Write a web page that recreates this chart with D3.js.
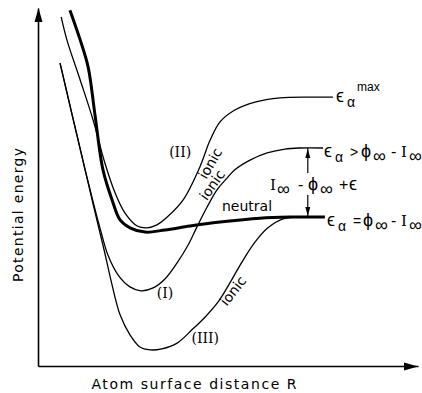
<!DOCTYPE html>
<html>
<head>
<meta charset="utf-8">
<script src="https://cdn.jsdelivr.net/npm/d3@7"></script>
<style>
  body { margin: 0; background: #fff; }
</style>
</head>
<body>
<svg id="chart" width="422" height="393"></svg>
<script>
// Potential energy curves, [R, E] in arbitrary units (R runs 0..10 along the x axis, E 0..10 up the y axis)
const neutralCurve = [
    [0.84, 9.94], [1.11, 9.11], [1.32, 8.35], [1.50, 7.01], [1.71, 5.48], [1.95, 4.64],
    [2.16, 4.08], [2.42, 3.86], [2.82, 3.74], [3.34, 3.80], [4.00, 3.91], [4.79, 4.02],
    [5.84, 4.13], [6.63, 4.16], [7.55, 4.16]
];
const curveI = [
    [0.58, 8.46], [0.90, 7.01], [1.24, 5.48], [1.47, 4.50], [1.63, 3.86], [1.84, 3.10],
    [2.11, 2.54], [2.42, 2.21], [2.71, 2.10], [3.03, 2.18], [3.34, 2.43], [3.66, 2.88],
    [3.95, 3.38], [4.18, 3.88], [4.45, 4.44], [4.71, 4.92], [4.95, 5.22], [5.18, 5.48],
    [5.58, 5.75], [6.03, 5.95], [6.50, 6.06], [6.90, 6.09], [7.50, 6.09]
];
const curveII = [
    [0.61, 9.75], [0.76, 9.11], [1.11, 7.99], [1.45, 6.87], [1.76, 5.67], [2.03, 4.83],
    [2.29, 4.27], [2.61, 3.91], [2.87, 3.86], [3.13, 3.94], [3.40, 4.16], [3.82, 4.64],
    [4.26, 5.56], [4.53, 6.31], [4.79, 6.82], [5.18, 7.15], [5.71, 7.37], [6.37, 7.49],
    [7.16, 7.51], [7.76, 7.51]
];
const curveIII = [
    [0.58, 8.46], [0.90, 7.01], [1.24, 5.48], [1.50, 4.30], [1.74, 3.24], [1.95, 2.26],
    [2.16, 1.43], [2.42, 0.87], [2.68, 0.53], [2.95, 0.45], [3.26, 0.48], [3.66, 0.64],
    [4.05, 1.01], [4.40, 1.37], [4.74, 1.79], [5.05, 2.32], [5.37, 2.91], [5.71, 3.46],
    [6.05, 3.86], [6.45, 4.11], [6.90, 4.16]
];

// labels sitting on the curves: text, R, E, rotation
const curveLabels = [
    { text: "(II)", r: 3.74, e: 5.84, rot: 0, serif: true },
    { text: "(I)", r: 3.34, e: 1.90, rot: 0, serif: true },
    { text: "(III)", r: 4.40, e: 0.64, rot: 0, serif: true },
    { text: "neutral", r: 5.50, e: 4.33, rot: 0 },
    { text: "ionic", r: 4.53, e: 5.66, rot: -60 },
    { text: "ionic", r: 4.58, e: 5.06, rot: -55 },
    { text: "ionic", r: 5.13, e: 2.10, rot: -52 }
];

// R position of the double arrow between the two plateaus
const gapR = 7.1;

const svg = d3.select("#chart");

const x = d3.scaleLinear().domain([0, 10]).range([38, 418]);
const y = d3.scaleLinear().domain([0, 10]).range([366, 8]);

const sans = "'DejaVu Sans', sans-serif";
const serif = "'DejaVu Serif', serif";
const mathFont = "'Liberation Sans', 'DejaVu Sans', sans-serif";

// axes, no ticks, just the lines with arrow heads
svg.append("g")
    .attr("transform", "translate(0," + y(0) + ")")
    .call(d3.axisBottom(x).tickValues([]).tickSizeOuter(0))
    .select(".domain").attr("stroke-width", 1.6);
svg.append("g")
    .attr("transform", "translate(" + x(0) + ",0)")
    .call(d3.axisLeft(y).tickValues([]).tickSizeOuter(0))
    .select(".domain").attr("stroke-width", 1.6);

svg.append("path")
    .attr("d", `M${x(0) + 0.5},${y(10)} L${x(0) + 4.5},${y(10) + 14} L${x(0) - 3.5},${y(10) + 14} Z`)
    .attr("fill", "#000");
svg.append("path")
    .attr("d", `M${x(10)},${y(0) + 0.5} L${x(10) - 14},${y(0) + 4.5} L${x(10) - 14},${y(0) - 3.5} Z`)
    .attr("fill", "#000");

// axis titles
svg.append("text")
    .attr("x", 194).attr("y", 389)
    .attr("text-anchor", "middle")
    .attr("font-family", sans).attr("font-size", 14)
    .attr("textLength", 205).attr("lengthAdjust", "spacing")
    .text("Atom surface distance R");
svg.append("text")
    .attr("transform", "translate(23,215) rotate(-90)")
    .attr("text-anchor", "middle")
    .attr("font-family", sans).attr("font-size", 14)
    .attr("textLength", 134).attr("lengthAdjust", "spacing")
    .text("Potential energy");

// curves
const line = d3.line()
    .x(d => x(d[0]))
    .y(d => y(d[1]))
    .curve(d3.curveCatmullRom.alpha(0.5));

[curveI, curveII, curveIII].forEach(c => {
    svg.append("path")
        .datum(c)
        .attr("d", line)
        .attr("fill", "none")
        .attr("stroke", "#000")
        .attr("stroke-width", 1.3);
});
svg.append("path")
    .datum(neutralCurve)
    .attr("d", line)
    .attr("fill", "none")
    .attr("stroke", "#000")
    .attr("stroke-width", 3);

// curve labels
svg.append("g")
    .selectAll("text")
    .data(curveLabels)
    .join("text")
    .attr("transform", d => `translate(${x(d.r)},${y(d.e)}) rotate(${d.rot})`)
    .attr("text-anchor", "middle")
    .attr("dominant-baseline", d => d.rot ? "central" : "auto")
    .attr("font-family", d => d.serif ? serif : sans)
    .attr("font-size", 14)
    .text(d => d.text);

// double arrow between the plateaus of (I) and neutral
const ax = x(gapR);
const aTop = y(curveI[curveI.length - 1][1]);
const aBot = y(neutralCurve[neutralCurve.length - 1][1]);
svg.append("line").attr("x1", ax).attr("x2", ax).attr("y1", aTop).attr("y2", aTop + 25)
    .attr("stroke", "#000").attr("stroke-width", 1.2);
svg.append("line").attr("x1", ax).attr("x2", ax).attr("y1", aBot - 22).attr("y2", aBot)
    .attr("stroke", "#000").attr("stroke-width", 1.2);
svg.append("path")
    .attr("d", `M${ax},${aTop + 1} L${ax + 2.5},${aTop + 10} L${ax - 2.5},${aTop + 10} Z`)
    .attr("fill", "#000");
svg.append("path")
    .attr("d", `M${ax},${aBot - 1} L${ax + 2.5},${aBot - 10} L${ax - 2.5},${aBot - 10} Z`)
    .attr("fill", "#000");

// formula labels: each part placed at its own x, with sub/superscript shifts
function formula(base, parts) {
    const t = svg.append("text")
        .attr("y", base)
        .attr("font-family", mathFont).attr("font-size", 16);
    let shift = 0;
    parts.forEach(p => {
        const want = p.k === "sub" ? 5 : p.k === "sup" ? -11 : 0;
        t.append("tspan")
            .attr("x", p.x)
            .attr("dy", want - shift)
            .attr("font-size", p.size || (p.k ? 14 : 18))
            .attr("font-family", p.serif ? serif : mathFont)
            .text(p.t);
        shift = want;
    });
}

formula(102, [
    { t: "ϵ", x: 336 }, { t: "α", k: "sub", x: 347 }, { t: "max", k: "sup", x: 357, size: 12 }
]);
formula(157, [
    { t: "ϵ", x: 324 }, { t: "α", k: "sub", x: 335 }, { t: ">", x: 350, size: 14 }, { t: "ϕ", x: 361 },
    { t: "∞", k: "sub", x: 373, size: 18 }, { t: "-", x: 391, size: 16 }, { t: "I", x: 401, serif: true, size: 15 },
    { t: "∞", k: "sub", x: 409, size: 18 }
]);
formula(190, [
    { t: "I", x: 270, serif: true, size: 15 }, { t: "∞", k: "sub", x: 277, size: 18 }, { t: "-", x: 298, size: 16 },
    { t: "ϕ", x: 308 }, { t: "∞", k: "sub", x: 320, size: 18 }, { t: "+", x: 339, size: 16 }, { t: "ϵ", x: 349 }
]);
formula(226, [
    { t: "ϵ", x: 327 }, { t: "α", k: "sub", x: 338 }, { t: "=", x: 353, size: 14 }, { t: "ϕ", x: 363 },
    { t: "∞", k: "sub", x: 375, size: 18 }, { t: "-", x: 391, size: 16 }, { t: "I", x: 401, serif: true, size: 15 },
    { t: "∞", k: "sub", x: 409, size: 18 }
]);
</script>
</body>
</html>
